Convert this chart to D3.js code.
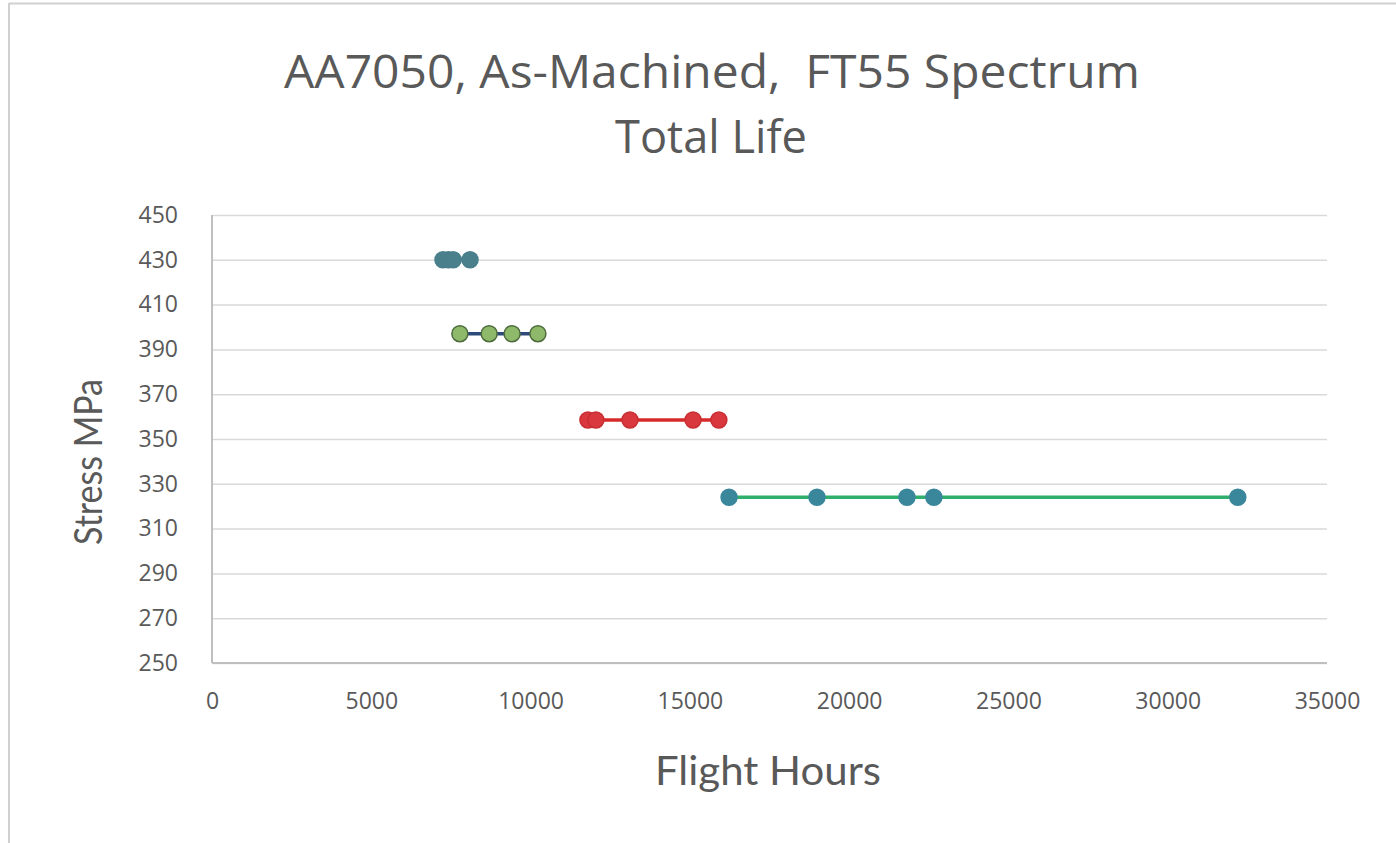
<!DOCTYPE html>
<html>
<head>
<meta charset="utf-8">
<script src="https://cdn.jsdelivr.net/npm/d3@7"></script>
<style>
  html, body { margin: 0; padding: 0; background: #fff; }
  svg { display: block; }
  text.keep-space { white-space: pre; }
</style>
</head>
<body>
<svg id="chart" width="1396" height="843"></svg>
<script>
// Total-life test results, grouped by applied stress level
const titleLines = ["AA7050, As-Machined,  FT55 Spectrum", "Total Life"];
const xTicks = [0, 5000, 10000, 15000, 20000, 25000, 30000, 35000];
const yTicks = [250, 270, 290, 310, 330, 350, 370, 390, 410, 430, 450];

const hours430 = [7250, 7420, 7570, 8100];
const stress430 = [430, 430, 430, 430];
const hours397 = [7780, 8700, 9420, 10230];
const stress397 = [397, 397, 397, 397];
const hours359 = [11800, 12050, 13120, 15100, 15910];
const stress359 = [358.5, 358.5, 358.5, 358.5, 358.5];
const hours324 = [16230, 18990, 21815, 22660, 32200];
const stress324 = [324, 324, 324, 324, 324];

const series = [
  { hours: hours430, stress: stress430, line: "#3f6f85", fill: "#4a7f8c", stroke: "#4a7f8c" },
  { hours: hours397, stress: stress397, line: "#2e4a7a", fill: "#8fb96a", stroke: "#4d6b3c" },
  { hours: hours359, stress: stress359, line: "#d62a2a", fill: "#d9383f", stroke: "#c92f32" },
  { hours: hours324, stress: stress324, line: "#2fae6c", fill: "#3a879c", stroke: "#3a879c" }
];

const svg = d3.select("#chart");
const plot = { left: 212, right: 1327, top: 215, bottom: 663 };
const textColor = "#595959";

// outer chart frame edges
svg.append("line").attr("x1", 9).attr("x2", 1396).attr("y1", 3.5).attr("y2", 3.5)
  .attr("stroke", "#d0d0d0").attr("stroke-width", 2);
svg.append("line").attr("x1", 9).attr("x2", 9).attr("y1", 3).attr("y2", 843)
  .attr("stroke", "#d0d0d0").attr("stroke-width", 2);

const x = d3.scaleLinear().domain([0, 35000]).range([plot.left, plot.right]);
const y = d3.scaleLinear().domain([250, 450]).range([plot.bottom, plot.top]);

// horizontal gridlines
svg.append("g").attr("transform", `translate(${plot.left},0)`)
  .call(d3.axisLeft(y).tickValues(yTicks).tickSize(-(plot.right - plot.left)).tickFormat(""))
  .call(g => g.select(".domain").remove())
  .call(g => g.selectAll(".tick line").attr("stroke", "#d9d9d9").attr("stroke-width", 1.5));

// y axis labels
svg.append("g").attr("transform", `translate(${plot.left},0)`)
  .call(d3.axisLeft(y).tickValues(yTicks).tickSize(0).tickPadding(34).tickFormat(d3.format("d")))
  .call(g => g.select(".domain").remove())
  .call(g => g.selectAll(".tick text").attr("fill", textColor)
    .style("font-family", "'Open Sans', sans-serif").style("font-size", "23px"));

// x axis labels
svg.append("g").attr("transform", `translate(0,${plot.bottom})`)
  .call(d3.axisBottom(x).tickValues(xTicks).tickSize(0).tickPadding(30).tickFormat(d3.format("d")))
  .call(g => g.select(".domain").remove())
  .call(g => g.selectAll(".tick text").attr("fill", textColor)
    .style("font-family", "'Open Sans', sans-serif").style("font-size", "23px"));

// axis lines
svg.append("line").attr("x1", plot.left).attr("x2", plot.left).attr("y1", plot.top).attr("y2", plot.bottom)
  .attr("stroke", "#bfbfbf").attr("stroke-width", 2);
svg.append("line").attr("x1", plot.left).attr("x2", plot.right).attr("y1", plot.bottom).attr("y2", plot.bottom)
  .attr("stroke", "#bfbfbf").attr("stroke-width", 2);

// series lines and markers
const line = d3.line().x(d => x(d[0])).y(d => y(d[1]));
series.forEach(s => {
  const pts = s.hours.map((h, i) => [h, s.stress[i]]);
  svg.append("path").datum(pts).attr("d", line)
    .attr("fill", "none").attr("stroke", s.line).attr("stroke-width", 3.5);
  svg.append("g").selectAll("circle").data(pts).join("circle")
    .attr("cx", d => x(d[0])).attr("cy", d => y(d[1])).attr("r", 8)
    .attr("fill", s.fill).attr("stroke", s.stroke).attr("stroke-width", 1.5);
});

// titles
svg.append("text").attr("class", "keep-space").attr("x", 712).attr("y", 88).attr("text-anchor", "middle")
  .attr("fill", textColor).style("font-family", "'Open Sans', sans-serif").style("font-size", "45px")
  .attr("textLength", 856).attr("lengthAdjust", "spacingAndGlyphs")
  .text(titleLines[0]);
svg.append("text").attr("x", 711).attr("y", 153).attr("text-anchor", "middle")
  .attr("fill", textColor).style("font-family", "'Open Sans', sans-serif").style("font-size", "45px")
  .attr("textLength", 192).attr("lengthAdjust", "spacingAndGlyphs")
  .text(titleLines[1]);

svg.append("text").attr("x", 768).attr("y", 785).attr("text-anchor", "middle")
  .attr("fill", textColor).style("font-family", "Lato, sans-serif").style("font-size", "40px")
  .attr("textLength", 226).attr("lengthAdjust", "spacingAndGlyphs")
  .text("Flight Hours");
svg.append("text").attr("transform", "translate(102,462) rotate(-90)").attr("text-anchor", "middle")
  .attr("fill", textColor).style("font-family", "Lato, sans-serif").style("font-size", "38px")
  .attr("textLength", 166).attr("lengthAdjust", "spacingAndGlyphs")
  .text("Stress MPa");
</script>
</body>
</html>
